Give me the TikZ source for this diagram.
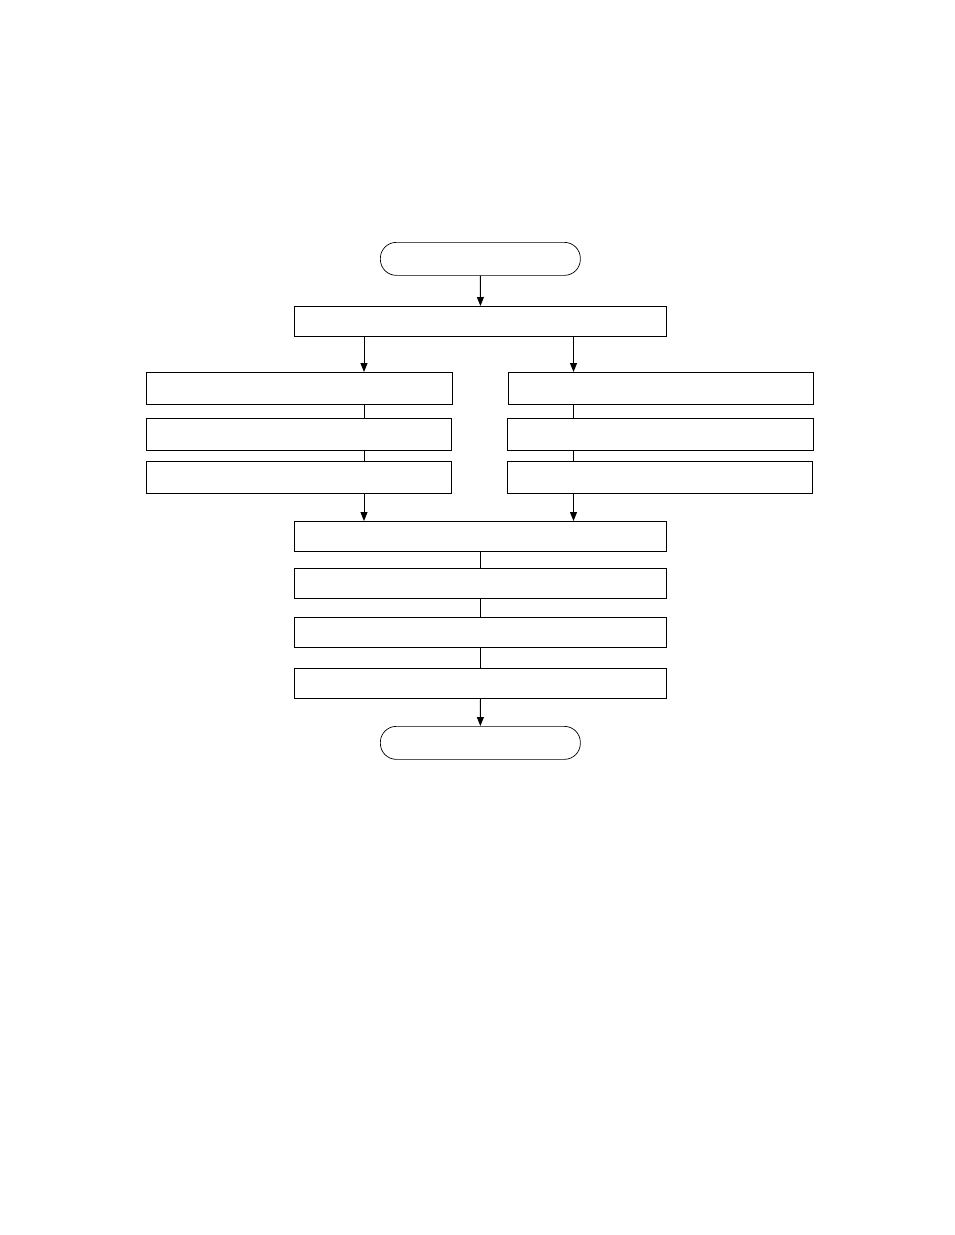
\documentclass[tikz,border=0pt]{standalone}
\usetikzlibrary{arrows.meta}
\begin{document}
\begin{tikzpicture}[x=1pt,y=-1pt,
  box/.style={draw,line width=0.9pt,inner sep=0pt,anchor=north west},
  term/.style={draw,line width=0.7pt,inner sep=0pt,anchor=north west,rounded corners=16pt},
  arr/.style={line width=0.9pt,-{Triangle[width=7pt,length=9pt]}},
  con/.style={line width=0.9pt}]
\useasboundingbox (0,0) rectangle (954,1235);
\node[term,minimum width=200pt,minimum height=33pt] (st) at (380,242) {};
\node[box,minimum width=372pt,minimum height=30pt] (b1) at (294,306) {};
\node[box,minimum width=306pt,minimum height=32pt] (l1) at (146,372) {};
\node[box,minimum width=305pt,minimum height=32pt] (l2) at (146,418) {};
\node[box,minimum width=305pt,minimum height=32pt] (l3) at (146,461) {};
\node[box,minimum width=305pt,minimum height=32pt] (r1) at (508,372) {};
\node[box,minimum width=306pt,minimum height=32pt] (r2) at (507,418) {};
\node[box,minimum width=305pt,minimum height=32pt] (r3) at (507,461) {};
\node[box,minimum width=372pt,minimum height=30pt] (c1) at (294,521) {};
\node[box,minimum width=372pt,minimum height=30pt] (c2) at (294,568) {};
\node[box,minimum width=372pt,minimum height=30pt] (c3) at (294,617) {};
\node[box,minimum width=372pt,minimum height=30pt] (c4) at (294,668) {};
\node[term,minimum width=200pt,minimum height=33pt] (en) at (380,726) {};
\coordinate (lx) at (364,0);
\coordinate (rx) at (573.5,0);
\draw[arr] (st.south) -- (b1.north);
\draw[arr] (b1.south -| lx) -- (l1.north -| lx);
\draw[arr] (b1.south -| rx) -- (r1.north -| rx);
\draw[con] (l1.south -| lx) -- (l2.north -| lx);
\draw[con] (l2.south -| lx) -- (l3.north -| lx);
\draw[con] (r1.south -| rx) -- (r2.north -| rx);
\draw[con] (r2.south -| rx) -- (r3.north -| rx);
\draw[arr] (l3.south -| lx) -- (c1.north -| lx);
\draw[arr] (r3.south -| rx) -- (c1.north -| rx);
\draw[con] (c1.south) -- (c2.north);
\draw[con] (c2.south) -- (c3.north);
\draw[con] (c3.south) -- (c4.north);
\draw[arr] (c4.south) -- (en.north);
\end{tikzpicture}
\end{document}
